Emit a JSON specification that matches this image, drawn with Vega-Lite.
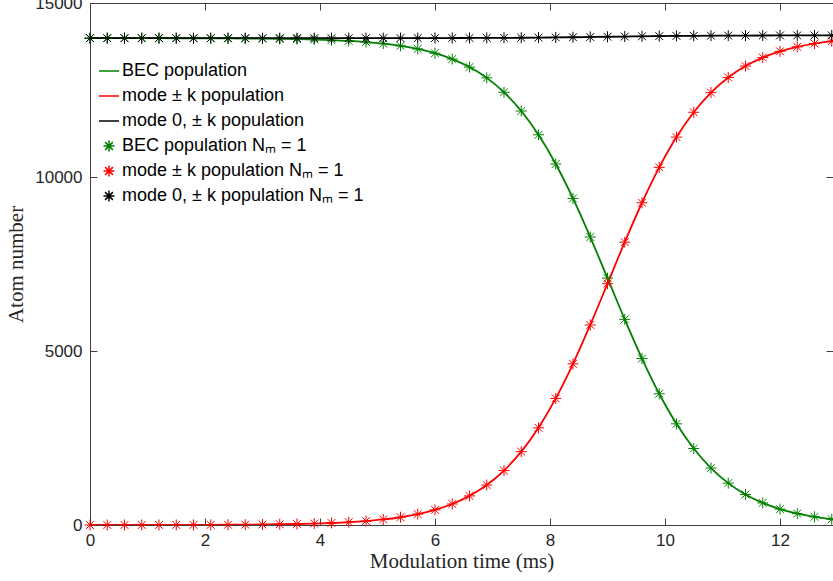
{
  "$schema": "https://vega.github.io/schema/vega-lite/v6.json",
  "autosize": {"type": "none"},
  "padding": {"left": 90, "top": 3, "right": 0, "bottom": 56},
  "width": 743,
  "height": 522,
  "background": "white",
  "config": {
    "view": {"stroke": null},
    "axis": {
      "labelFont": "Liberation Sans",
      "labelFontSize": 17,
      "labelColor": "#262626",
      "labelFlush": false,
      "titleFont": "Liberation Serif",
      "titleFontSize": 21,
      "titleFontWeight": "normal",
      "titleColor": "#262626",
      "domainColor": "#404040",
      "tickColor": "#404040",
      "grid": false
    },
    "legend": {
      "orient": "none",
      "legendX": 8,
      "legendY": 57,
      "padding": 0,
      "labelFont": "Liberation Sans",
      "labelFontSize": 18,
      "labelColor": "#000000",
      "labelLimit": 400,
      "labelOffset": 2,
      "symbolSize": 400,
      "symbolStrokeWidth": 1.5,
      "rowPadding": 5
    }
  },
  "datasets": {
    "names": [
      {"s": "g", "line": "BEC population", "pt": "BEC population Nₘ = 1"},
      {"s": "r", "line": "mode ± k population", "pt": "mode ± k population Nₘ = 1"},
      {"s": "k", "line": "mode 0, ± k population", "pt": "mode 0, ± k population Nₘ = 1"}
    ],
    "pop": [
      {"t": 0.0, "g": 13990, "r": 0, "k": 13990, "m": true},
      {"t": 0.3, "g": 13989, "r": 1, "k": 13990, "m": true},
      {"t": 0.6, "g": 13989, "r": 1, "k": 13990, "m": true},
      {"t": 0.9, "g": 13989, "r": 1, "k": 13990, "m": true},
      {"t": 1.2, "g": 13988, "r": 2, "k": 13990, "m": true},
      {"t": 1.5, "g": 13987, "r": 3, "k": 13990, "m": true},
      {"t": 1.8, "g": 13986, "r": 4, "k": 13990, "m": true},
      {"t": 2.1, "g": 13985, "r": 5, "k": 13990, "m": true},
      {"t": 2.4, "g": 13983, "r": 7, "k": 13990, "m": true},
      {"t": 2.7, "g": 13980, "r": 10, "k": 13990, "m": true},
      {"t": 3.0, "g": 13975, "r": 15, "k": 13990, "m": true},
      {"t": 3.3, "g": 13969, "r": 21, "k": 13990, "m": true},
      {"t": 3.6, "g": 13961, "r": 29, "k": 13990, "m": true},
      {"t": 3.9, "g": 13949, "r": 41, "k": 13990, "m": true},
      {"t": 4.2, "g": 13933, "r": 58, "k": 13990, "m": true},
      {"t": 4.5, "g": 13910, "r": 81, "k": 13991, "m": true},
      {"t": 4.8, "g": 13877, "r": 114, "k": 13991, "m": true},
      {"t": 5.1, "g": 13832, "r": 159, "k": 13991, "m": true},
      {"t": 5.4, "g": 13768, "r": 223, "k": 13991, "m": true},
      {"t": 5.7, "g": 13680, "r": 312, "k": 13992, "m": true},
      {"t": 6.0, "g": 13558, "r": 435, "k": 13993, "m": true},
      {"t": 6.3, "g": 13389, "r": 604, "k": 13993, "m": true},
      {"t": 6.6, "g": 13159, "r": 836, "k": 13995, "m": true},
      {"t": 6.9, "g": 12849, "r": 1148, "k": 13997, "m": true},
      {"t": 7.2, "g": 12435, "r": 1564, "k": 13999, "m": true},
      {"t": 7.5, "g": 11896, "r": 2107, "k": 14002, "m": true},
      {"t": 7.8, "g": 11213, "r": 2793, "k": 14006, "m": true},
      {"t": 8.1, "g": 10374, "r": 3637, "k": 14011, "m": true},
      {"t": 8.4, "g": 9384, "r": 4632, "k": 14016, "m": true},
      {"t": 8.7, "g": 8275, "r": 5748, "k": 14023, "m": true},
      {"t": 9.0, "g": 7094, "r": 6935, "k": 14030, "m": true},
      {"t": 9.3, "g": 5909, "r": 8128, "k": 14036, "m": true},
      {"t": 9.6, "g": 4783, "r": 9260, "k": 14043, "m": true},
      {"t": 9.9, "g": 3772, "r": 10277, "k": 14048, "m": true},
      {"t": 10.2, "g": 2907, "r": 11147, "k": 14054, "m": true},
      {"t": 10.5, "g": 2198, "r": 11860, "k": 14058, "m": true},
      {"t": 10.8, "g": 1636, "r": 12425, "k": 14061, "m": true},
      {"t": 11.1, "g": 1203, "r": 12860, "k": 14063, "m": true},
      {"t": 11.4, "g": 877, "r": 13188, "k": 14065, "m": true},
      {"t": 11.7, "g": 635, "r": 13432, "k": 14066, "m": true},
      {"t": 12.0, "g": 457, "r": 13611, "k": 14067, "m": true},
      {"t": 12.3, "g": 328, "r": 13740, "k": 14068, "m": true},
      {"t": 12.6, "g": 235, "r": 13834, "k": 14069, "m": true},
      {"t": 12.9, "g": 167, "r": 13902, "k": 14069, "m": true},
      {"t": 13.0, "g": 150, "r": 13920, "k": 14069, "m": false}
    ]
  },
  "data": {"name": "pop"},
  "resolve": {"axis": {"x": "independent", "y": "independent"}},
  "layer": [
    {
      "transform": [
        {"fold": ["g", "r", "k"], "as": ["s", "v"]},
        {"lookup": "s", "from": {"data": {"name": "names"}, "key": "s", "fields": ["line"]}}
      ],
      "mark": {"type": "line", "strokeWidth": 1.8, "clip": true, "interpolate": "monotone"},
      "encoding": {
        "x": {
          "field": "t", "type": "quantitative",
          "scale": {"domain": [0, 12.922], "nice": false, "zero": false},
          "axis": {"orient": "bottom", "values": [0, 2, 4, 6, 8, 10, 12], "format": "d", "tickSize": -7, "labelPadding": 14, "title": "Modulation time (ms)", "titlePadding": 2}
        },
        "y": {
          "field": "v", "type": "quantitative",
          "scale": {"domain": [0, 15000], "nice": false},
          "axis": {"orient": "left", "values": [0, 5000, 10000, 15000], "format": "d", "tickSize": -7, "labelPadding": 15, "title": "Atom number", "titlePadding": 8}
        },
        "color": {
          "field": "line", "type": "nominal", "title": null,
          "scale": {
            "domain": ["BEC population", "mode ± k population", "mode 0, ± k population", "BEC population Nₘ = 1", "mode ± k population Nₘ = 1", "mode 0, ± k population Nₘ = 1"],
            "range": ["#008000", "#ff0000", "#000000", "#008000", "#ff0000", "#000000"]
          }
        },
        "detail": {"field": "s"}
      }
    },
    {
      "transform": [
        {"filter": "datum.m"},
        {"fold": ["g", "r", "k"], "as": ["s", "v"]},
        {"lookup": "s", "from": {"data": {"name": "names"}, "key": "s", "fields": ["pt"]}}
      ],
      "mark": {"type": "point", "filled": false, "size": 400, "strokeWidth": 1, "opacity": 1},
      "encoding": {
        "x": {
          "field": "t", "type": "quantitative",
          "axis": {"orient": "top", "values": [0, 2, 4, 6, 8, 10, 12], "tickSize": -7, "labels": false, "title": null}
        },
        "y": {
          "field": "v", "type": "quantitative",
          "axis": {"orient": "right", "values": [0, 5000, 10000, 15000], "tickSize": -7, "labels": false, "domain": false, "title": null}
        },
        "color": {"field": "pt", "type": "nominal", "title": null},
        "shape": {
          "field": "pt", "type": "nominal", "title": null,
          "scale": {
            "domain": ["BEC population", "mode ± k population", "mode 0, ± k population", "BEC population Nₘ = 1", "mode ± k population Nₘ = 1", "mode 0, ± k population Nₘ = 1"],
            "range": ["M-1,0L1,0", "M-1,0L1,0", "M-1,0L1,0",
              "M0,-0.55L0,0.55M-0.55,0L0.55,0M-0.39,-0.39L0.39,0.39M-0.39,0.39L0.39,-0.39",
              "M0,-0.55L0,0.55M-0.55,0L0.55,0M-0.39,-0.39L0.39,0.39M-0.39,0.39L0.39,-0.39",
              "M0,-0.55L0,0.55M-0.55,0L0.55,0M-0.39,-0.39L0.39,0.39M-0.39,0.39L0.39,-0.39"]
          }
        }
      }
    }
  ]
}
